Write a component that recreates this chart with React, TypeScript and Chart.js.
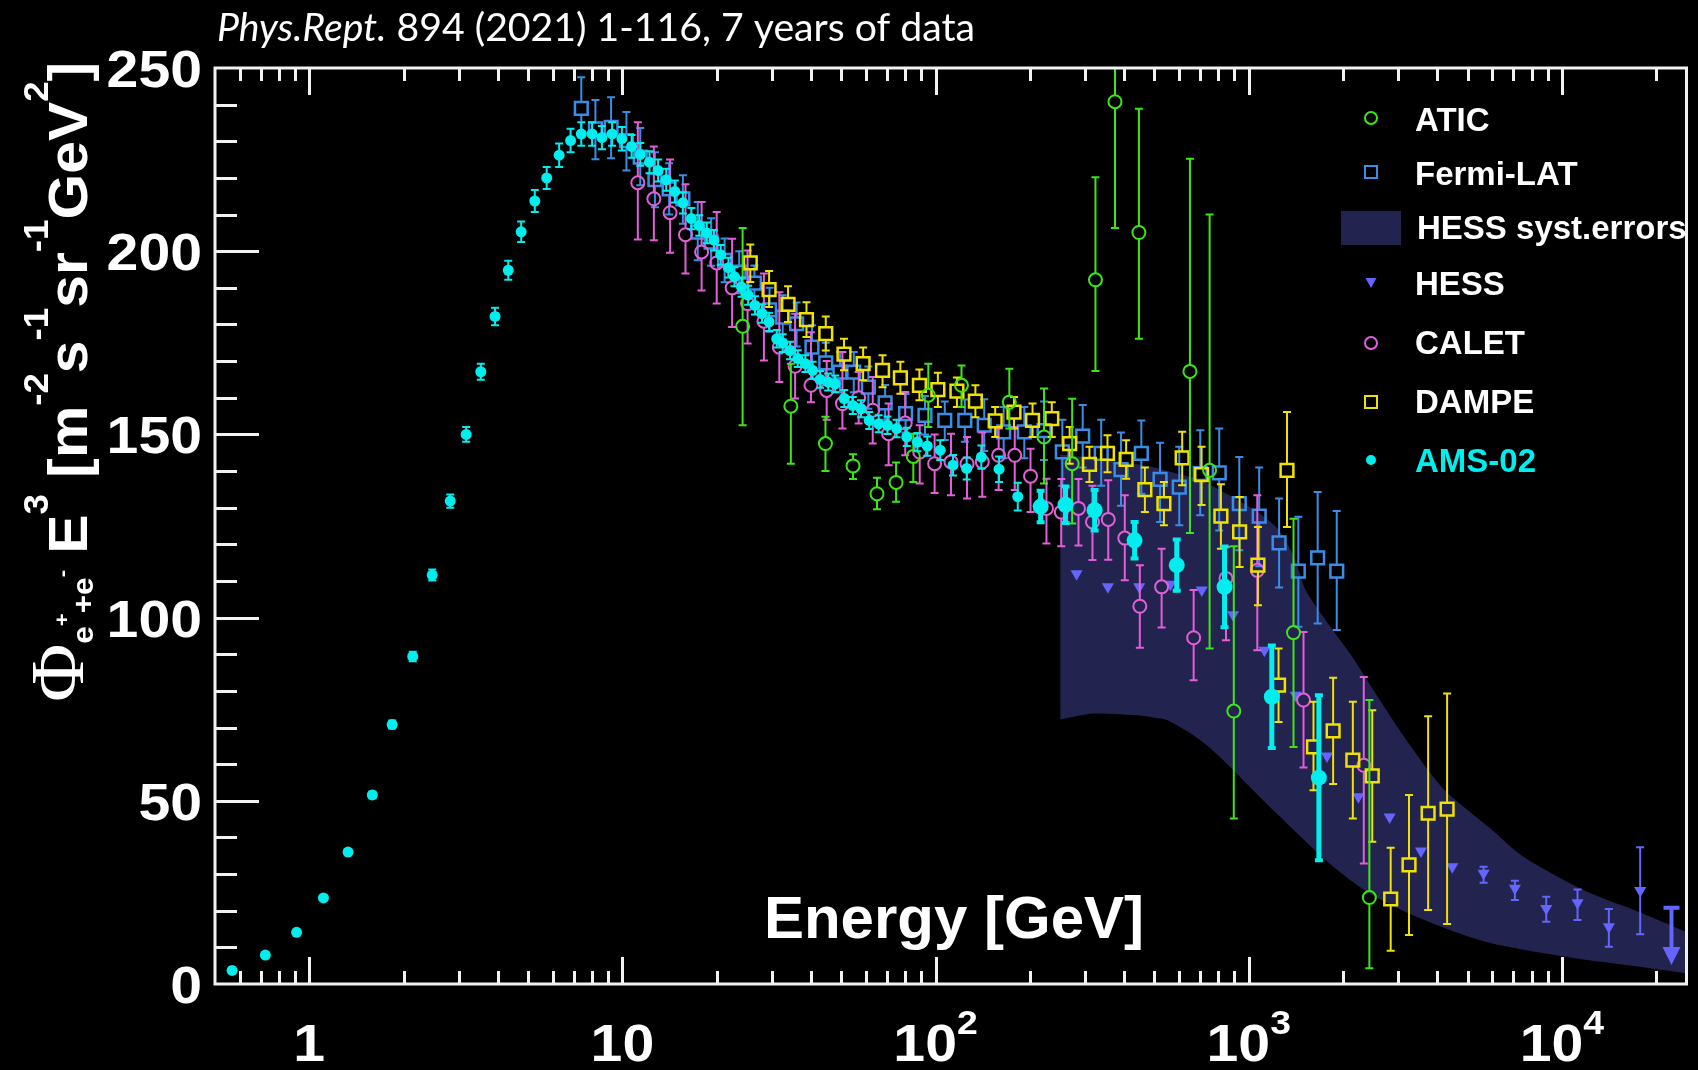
import React, { useEffect, useRef } from "react";
import { Chart, registerables } from "chart.js";

Chart.register(...registerables);

const CANVAS_W = 1698;
const CANVAS_H = 1070;

// Axis ranges
const X_MIN = 0.5;
const X_MAX = 25000;
const Y_MIN = 0;
const Y_MAX = 250;
const Y_TICK_LABELS = [0, 50, 100, 150, 200, 250];
const X_TICK_EXPONENTS = [0, 1, 2, 3, 4];

// AMS-02 (E [GeV], flux x E^3, symmetric error)
const AMS_E = [0.567, 0.724, 0.911, 1.11, 1.33, 1.59, 1.84, 2.14, 2.47, 2.82, 3.17, 3.53, 3.92, 4.32, 4.75, 5.25, 5.73, 6.28, 6.83, 7.39, 8.0, 8.6, 9.27, 9.96, 10.7, 11.4, 12.2, 13.0, 13.8, 14.7, 15.6, 16.6, 17.6, 18.6, 19.6, 20.6, 21.8, 22.8, 24.0, 25.2, 26.5, 27.9, 29.4, 31.1, 32.5, 34.3, 36.3, 38.4, 40.5, 42.8, 45.4, 47.8, 51.1, 54.4, 57.8, 61.4, 65.8, 70.2, 75.1, 80.9, 87.5, 94.1, 103.5, 113.7, 125.7, 140, 159.5, 183, 216.5, 260, 322, 432, 589, 837, 1185, 1675];
const AMS_F = [3.7, 7.9, 14.1, 23.5, 36.0, 51.6, 70.8, 89.4, 111.6, 131.8, 150.0, 167.1, 182.2, 194.8, 205.3, 213.7, 220.0, 226.2, 230.2, 232.0, 232.0, 231.0, 232.0, 230.7, 228.6, 226.4, 224.3, 222.0, 219.5, 216.3, 213.2, 208.9, 207.0, 205.0, 203.0, 199.0, 195.5, 193.0, 190.2, 188.0, 185.2, 183.0, 180.7, 176.1, 174.9, 172.9, 170.7, 169.3, 167.5, 165.0, 164.3, 163.8, 159.8, 157.9, 157.0, 153.8, 152.9, 152.5, 151.6, 149.3, 147.9, 146.8, 145.7, 141.6, 140.7, 143.8, 140.5, 133.0, 130.3, 130.8, 129.3, 121.1, 114.3, 108.4, 78.4, 56.3];
const AMS_ERR = [0.3, 0.3, 0.4, 0.5, 0.7, 0.9, 1.1, 1.3, 1.5, 1.8, 2.0, 2.2, 2.4, 2.6, 2.8, 3.0, 3.0, 3.2, 3.2, 3.2, 3.2, 3.2, 3.2, 3.2, 3.1, 3.1, 3.0, 3.0, 3.0, 3.0, 2.9, 2.9, 2.8, 2.8, 2.8, 2.7, 2.7, 2.6, 2.6, 2.6, 2.5, 2.5, 2.5, 2.4, 2.4, 2.4, 2.3, 2.3, 2.3, 2.3, 2.3, 2.3, 2.3, 2.3, 2.3, 2.3, 2.3, 2.4, 2.4, 2.5, 2.5, 2.6, 2.7, 2.8, 3.0, 3.2, 3.5, 3.8, 4.3, 5.0, 5.5, 5.0, 7.0, 11.0, 14.0, 22.5];

// ATIC
const ATIC_E = [24.2, 34.5, 44.5, 54.5, 65, 74.8, 84.9, 94.8, 121, 172, 222, 273, 324, 374, 446, 649, 750, 896, 1390, 2428];
const ATIC_F = [179.5, 157.7, 147.5, 141.4, 133.8, 136.9, 144, 160.7, 163.4, 158.8, 149.3, 142, 192.2, 240.8, 205.1, 167.2, 140.2, 74.5, 95.9, 23.6];
const ATIC_LO = [152.5, 142, 140, 137.8, 129.6, 131.6, 137, 152, 157.5, 151.6, 136.6, 125.7, 167.3, 206.3, 176.1, 123.1, 91.6, 45.2, 64.7, 4.3];
const ATIC_HI = [206.3, 169.3, 154.8, 144.6, 138.2, 142.3, 150.2, 169.3, 168.8, 167.9, 162.5, 159.7, 220.2, 252, 238.9, 225.2, 210, 119.5, 127, 77.5];

// Fermi-LAT
const FERMI_E = [7.39, 8.2, 9.2, 10.3, 11.4, 12.7, 14.1, 15.6, 17.4, 19.2, 21.2, 23.6, 26.4, 29.5, 32.5, 36, 40.3, 44.6, 49.5, 54.8, 61, 69, 80.2, 92.5, 107, 124, 143, 165, 192, 222, 254, 295, 338, 391, 454, 521, 600, 700, 805, 933, 1080, 1250, 1440, 1660, 1910];
const FERMI_F = [239, 233.4, 233.8, 230.2, 225.7, 219.5, 217, 214.3, 205.2, 202.5, 197.5, 194.3, 191.3, 184, 182, 180.2, 173.8, 169.5, 167, 167, 162.9, 158.6, 155.7, 155.2, 153.8, 153.8, 152.5, 150.7, 150.7, 151, 145.2, 149.5, 144.8, 140.4, 144.8, 137.7, 135.6, 139.3, 139.5, 131.1, 127.7, 120.4, 112.7, 116.3, 112.7];
const FERMI_LO = [231, 225.1, 225.4, 222, 218, 212, 210, 207.5, 197.5, 196, 191.5, 188.5, 185.7, 178, 176, 174, 167.5, 164, 161.5, 161.5, 157, 154, 150.5, 150, 148.5, 148, 145.5, 143.5, 143.5, 143, 136, 141, 136, 130.5, 133.8, 126.1, 125.2, 127.9, 123.8, 118.4, 114, 108.2, 97.5, 98.4, 96.6];
const FERMI_HI = [247.5, 241.3, 242, 238, 233.6, 227, 224, 220.7, 213.4, 209, 203.5, 200, 196.1, 190, 188, 186, 179.8, 175, 172.5, 172.5, 168.5, 163.5, 161, 160.5, 159, 159.5, 159.6, 157.5, 157.5, 159, 154, 158, 154, 150.5, 153.8, 147.7, 146.6, 151.1, 151.6, 143.8, 141, 132.5, 127.5, 134.3, 129.1];

// HESS systematic error band (upper / lower edge)
const BAND_E = [250, 320, 430, 500, 550, 700, 850, 1000, 1100, 1250, 1400, 1520, 1760, 2140, 2540, 3240, 4130, 5000, 5900, 7400, 9700, 12400, 17000, 25000];
const BAND_HI = [144.5, 143.5, 142, 141, 140, 137.5, 133.8, 130.3, 128, 123.8, 116.3, 107.5, 99.3, 89.3, 79.3, 65.7, 53.8, 47.5, 42.5, 35.2, 29.3, 24.7, 20.2, 14.2];
const BAND_LO = [72.2, 73.8, 73.4, 72.7, 72, 66.6, 60.2, 54.1, 50.5, 45.9, 41.8, 38.9, 33.8, 28.0, 23.8, 19.3, 15.6, 13.0, 11.2, 9.5, 7.8, 6.4, 4.9, 2.9];

// HESS
const HESS_E = [282, 355, 447, 562, 708, 891, 1122, 1413, 1778, 2239, 2818, 3548, 4467, 5623, 7079, 8913, 11220, 14125, 17783];
const HESS_F = [112, 108.4, 108.4, 109.1, 107.5, 100.8, 91.1, 78.8, 62.2, 51.1, 45.6, 36.3, 32.0, 30.2, 26.1, 20.6, 22.2, 15.6, 25.5];
const HESS_LO = [null, null, null, null, null, null, null, null, null, null, null, null, null, 27.6, 22.9, 17.0, 17.5, 10.2, 13.6];
const HESS_HI = [null, null, null, null, null, null, null, null, null, null, null, null, null, 32.0, 28.2, 23.8, 25.8, 20.5, 37.3];
// HESS upper limit (bar top, arrow tip)
const HESS_UL_E = [22387];
const HESS_UL_F = [20.8];
const HESS_UL_TIP = [5.2];

// CALET
const CALET_E = [11.2, 12.6, 14.2, 15.9, 17.9, 20, 22.4, 25.1, 28.3, 31.7, 35.6, 40, 44.9, 50.4, 56.8, 63, 70.8, 80, 89, 99.3, 112, 126, 141, 159, 179, 201, 226, 252, 286, 317, 356, 402, 449, 527, 667, 846, 1065, 1496, 2330];
const CALET_F = [218.7, 214.3, 210.5, 204.5, 199.8, 196.8, 190, 185.7, 180.9, 173.8, 168.6, 163.4, 162, 158.4, 160, 156.6, 150.2, 153.1, 145.2, 142, 142.5, 142, 142.5, 144.3, 144.3, 138.6, 129.8, 128.8, 129.8, 126.1, 126.8, 121.7, 103.1, 108.4, 94.5, 110.7, 112.9, 77.5, 59.7];
const CALET_LO = [203.2, 203, 199.6, 193.9, 189.3, 185.7, 179.3, 174.8, 170.2, 164.3, 159.8, 158.8, 154, 151.6, 153, 147.5, 141.6, 144.3, 136.6, 134, 133.4, 132.5, 133, 134.8, 134.8, 128.8, 120.2, 119.5, 119.7, 115.7, 115.8, 110.2, 91.8, 97.3, 82.9, 93.8, 91.1, 59.1, 32.9];
const CALET_HI = [235.2, 228.6, 225, 218.3, 213.4, 210.7, 203.4, 200.2, 193.9, 188.8, 182.9, 177.9, 170, 172.5, 167, 165.7, 158.4, 161.6, 152.5, 150, 150.2, 149.3, 150.5, 151.6, 152, 146.1, 137.9, 137.8, 137.8, 136, 137.5, 133.4, 114.3, 118.8, 107.5, 119.3, 133.4, 96.1, 83.8];

// DAMPE
const DAMPE_E = [25.6, 29.4, 33.8, 38.7, 44.6, 51, 58.7, 67.7, 77.2, 88.8, 101.7, 117, 134, 155, 178, 204, 235, 268, 310, 354, 406, 466, 536, 613, 707, 815, 935, 1070, 1245, 1325, 1610, 1860, 2150, 2480, 2840, 3250, 3740, 4300];
const DAMPE_F = [196.8, 189.5, 185.5, 181.3, 177.5, 171.9, 169.3, 167.5, 165.4, 163.4, 162.2, 161.8, 159.1, 153.7, 156.1, 153.8, 154.3, 147.5, 141.8, 144.8, 143.2, 134.9, 131.1, 143.6, 139, 127.7, 123.4, 114.3, 81.6, 140.2, 64.7, 69.1, 61.1, 56.8, 23.2, 32.5, 46.6, 47.7];
const DAMPE_LO = [191.6, 184.8, 180.7, 176.6, 172.9, 167.5, 164.8, 162.9, 161.1, 159.3, 157.5, 157.5, 154.7, 149.3, 151.6, 149.3, 149.3, 142, 137, 139.7, 137.9, 128.8, 125.2, 136.1, 130.7, 118.8, 113.8, 103.4, 71.5, 124.7, 52.9, 54.6, 45.2, 38.8, 9.1, 13.4, 20.2, 16.4];
const DAMPE_HI = [201.8, 194.6, 190.4, 186.1, 182.2, 176.1, 173.7, 171.6, 169.8, 167.7, 166.8, 165.5, 163.4, 157.5, 160.2, 158.4, 158.8, 152, 146.6, 149.8, 148.4, 141, 137, 150.7, 146.6, 136.4, 132.9, 124.7, 91.6, 156.1, 77, 83.6, 77, 74.7, 37.2, 51.6, 73.1, 79.3];

// Colours
const C_ATIC = "#3ce614";
const C_FERMI = "#3a8de6";
const C_BAND = "#23234f";
const C_HESS = "#6464ff";
const C_CALET = "#e35fd9";
const C_DAMPE = "#f0e200";
const C_AMS = "#00eeee";

const LEGEND_ITEMS = [
  { label: "ATIC", kind: "circle", color: C_ATIC },
  { label: "Fermi-LAT", kind: "square", color: C_FERMI },
  { label: "HESS syst.errors", kind: "box", color: C_BAND },
  { label: "HESS", kind: "triangle", color: C_HESS },
  { label: "CALET", kind: "circle", color: C_CALET },
  { label: "DAMPE", kind: "square", color: C_DAMPE },
  { label: "AMS-02", kind: "dot", color: C_AMS },
];

const toXY = (xs: number[], ys: number[]) => xs.map((x, i) => ({ x, y: ys[i] }));

const SANS = '"Liberation Sans", Arial, sans-serif';

type Run = { t: string; font: string; dy: number };

function runsWidth(ctx: CanvasRenderingContext2D, runs: Run[], sx: number) {
  let w = 0;
  for (const r of runs) {
    ctx.font = r.font;
    w += ctx.measureText(r.t).width * sx;
  }
  return w;
}

function drawRuns(ctx: CanvasRenderingContext2D, runs: Run[], x0: number, y0: number, sx: number) {
  let x = x0;
  for (const r of runs) {
    ctx.font = r.font;
    ctx.save();
    ctx.translate(x, y0 + r.dy);
    ctx.scale(sx, 1);
    ctx.textAlign = "left";
    ctx.textBaseline = "alphabetic";
    ctx.fillText(r.t, 0, 0);
    ctx.restore();
    x += ctx.measureText(r.t).width * sx;
  }
}

const backgroundPlugin = {
  id: "blackBackground",
  beforeDraw(chart: any) {
    const { ctx, width, height } = chart;
    ctx.save();
    ctx.fillStyle = "#000";
    ctx.fillRect(0, 0, width, height);
    ctx.restore();
  },
};

// Vertical error bars drawn under each dataset's markers
const errorBarPlugin = {
  id: "errorBars",
  beforeDatasetDraw(chart: any, args: any) {
    const ds: any = chart.data.datasets[args.index];
    if (!ds.errLo) return;
    const { ctx, chartArea: a } = chart;
    const xs = chart.scales.x;
    const ys = chart.scales.y;
    ctx.save();
    ctx.beginPath();
    ctx.rect(a.left, a.top, a.right - a.left, a.bottom - a.top);
    ctx.clip();
    ctx.strokeStyle = ds.borderColor;
    ctx.lineCap = "butt";
    ds.data.forEach((p: any, i: number) => {
      const lo = ds.errLo[i];
      const hi = ds.errHi[i];
      if (lo == null || hi == null) return;
      const px = xs.getPixelForValue(p.x);
      const py = ys.getPixelForValue(p.y);
      const yl = ys.getPixelForValue(lo);
      const yh = ys.getPixelForValue(hi);
      const lw = Array.isArray(ds.ebWidth) ? ds.ebWidth[i] : ds.ebWidth;
      const g = ds.ebGap || 0;
      const c = ds.ebCap;
      ctx.lineWidth = lw;
      ctx.beginPath();
      if (yh < py - g) {
        ctx.moveTo(px, py - g);
        ctx.lineTo(px, yh);
      }
      if (yl > py + g) {
        ctx.moveTo(px, py + g);
        ctx.lineTo(px, yl);
      }
      ctx.stroke();
      ctx.lineWidth = Math.max(2, lw * 0.8);
      ctx.beginPath();
      ctx.moveTo(px - c, yh);
      ctx.lineTo(px + c, yh);
      ctx.moveTo(px - c, yl);
      ctx.lineTo(px + c, yl);
      ctx.stroke();
    });
    ctx.restore();
  },
};

// Frame, inward ticks, HESS upper limit, labels and legend
const framePlugin = {
  id: "frameTicks",
  afterDatasetsDraw(chart: any) {
    const { ctx, chartArea: a } = chart;
    const xs = chart.scales.x;
    const ys = chart.scales.y;
    ctx.save();

    // HESS upper limit arrow
    ctx.strokeStyle = C_HESS;
    ctx.fillStyle = C_HESS;
    HESS_UL_E.forEach((e, i) => {
      const px = xs.getPixelForValue(e);
      const yt = ys.getPixelForValue(HESS_UL_F[i]);
      const yb = ys.getPixelForValue(HESS_UL_TIP[i]);
      ctx.lineWidth = 4;
      ctx.beginPath();
      ctx.moveTo(px - 8, yt);
      ctx.lineTo(px + 8, yt);
      ctx.moveTo(px, yt);
      ctx.lineTo(px, yb - 14);
      ctx.stroke();
      ctx.beginPath();
      ctx.moveTo(px - 9, yb - 18);
      ctx.lineTo(px + 9, yb - 18);
      ctx.lineTo(px, yb);
      ctx.closePath();
      ctx.fill();
    });

    ctx.strokeStyle = "#f2f2f2";
    ctx.lineWidth = 3;
    ctx.lineCap = "butt";
    ctx.beginPath();
    for (let k = -1; k <= 4; k++) {
      for (let d = 1; d <= 9; d++) {
        const v = d * Math.pow(10, k);
        if (v <= X_MIN || v >= X_MAX) continue;
        const px = Math.round(xs.getPixelForValue(v)) + 0.5;
        const len = d === 1 ? 27 : 13;
        ctx.moveTo(px, a.bottom);
        ctx.lineTo(px, a.bottom - len);
        ctx.moveTo(px, a.top);
        ctx.lineTo(px, a.top + len);
      }
    }
    for (let v = Y_MIN + 10; v < Y_MAX; v += 10) {
      const py = Math.round(ys.getPixelForValue(v)) + 0.5;
      const len = v % 50 === 0 ? 44 : 22;
      ctx.moveTo(a.left, py);
      ctx.lineTo(a.left + len, py);
    }
    ctx.stroke();
    ctx.strokeRect(a.left, a.top, a.right - a.left, a.bottom - a.top);
    ctx.restore();
  },
  afterDraw(chart: any) {
    const { ctx, chartArea: a } = chart;
    const xs = chart.scales.x;
    const ys = chart.scales.y;
    ctx.save();
    ctx.fillStyle = "#ffffff";

    // y tick labels
    const tickFont = `bold 52px ${SANS}`;
    Y_TICK_LABELS.forEach((v) => {
      const py = ys.getPixelForValue(v);
      ctx.font = tickFont;
      const w = ctx.measureText(String(v)).width * 1.1;
      drawRuns(ctx, [{ t: String(v), font: tickFont, dy: 0 }], a.left - 13 - w, py + 19, 1.1);
    });

    // x tick labels: 1, 10, 10^2 ...
    X_TICK_EXPONENTS.forEach((k) => {
      const px = xs.getPixelForValue(Math.pow(10, k));
      const runs: Run[] =
        k === 0
          ? [{ t: "1", font: tickFont, dy: 0 }]
          : k === 1
          ? [{ t: "10", font: tickFont, dy: 0 }]
          : [
              { t: "10", font: tickFont, dy: 0 },
              { t: String(k), font: `bold 34px ${SANS}`, dy: -27 },
            ];
      const w = runsWidth(ctx, runs, 1.1);
      drawRuns(ctx, runs, px - w / 2, 1061, 1.1);
    });

    // x axis title
    ctx.font = `bold 60px ${SANS}`;
    ctx.textAlign = "right";
    ctx.fillText("Energy [GeV]", 1144, 938);

    // y axis title (rotated)
    const B = `bold 56px ${SANS}`;
    const S = `bold 35px ${SANS}`;
    const SUB = `bold 30px ${SANS}`;
    const SS = `bold 21px ${SANS}`;
    const up = -39;
    const yRuns: Run[] = [
      { t: "Φ", font: '76px "Liberation Serif", serif', dy: -4 },
      { t: "e", font: SUB, dy: 6 },
      { t: "+", font: SS, dy: -18 },
      { t: "+", font: SUB, dy: 6 },
      { t: "e", font: SUB, dy: 6 },
      { t: "-", font: SS, dy: -18 },
      { t: " E", font: B, dy: 0 },
      { t: "3", font: S, dy: up },
      { t: " [m", font: B, dy: 0 },
      { t: "-2", font: S, dy: up },
      { t: "s", font: B, dy: 0 },
      { t: "-1", font: S, dy: up },
      { t: "sr", font: B, dy: 0 },
      { t: "-1", font: S, dy: up },
      { t: "GeV", font: B, dy: 0 },
      { t: "2", font: S, dy: up },
      { t: "]", font: B, dy: 0 },
    ];
    ctx.save();
    ctx.translate(87, 702);
    ctx.rotate(-Math.PI / 2);
    drawRuns(ctx, yRuns, 0, 0, 1.05);
    ctx.restore();

    // header line
    const tItal = "Phys.Rept.";
    const tRest = " 894 (2021) 1-116, 7 years of data";
    ctx.font = 'italic 38px Lato, "Open Sans", sans-serif';
    const w1 = ctx.measureText(tItal).width;
    ctx.font = '38px Lato, "Open Sans", sans-serif';
    const w2 = ctx.measureText(tRest).width;
    const s = 758 / (w1 + w2);
    ctx.save();
    ctx.translate(217, 41);
    ctx.scale(s, 1);
    ctx.textAlign = "left";
    ctx.font = 'italic 38px Lato, "Open Sans", sans-serif';
    ctx.fillText(tItal, 0, 0);
    ctx.font = '38px Lato, "Open Sans", sans-serif';
    ctx.fillText(tRest, w1, 0);
    ctx.restore();

    // legend
    const markX = 1371;
    const markY = [118, 172, 228, 282, 343, 402, 460];
    const baseY = [131, 185, 239, 295, 354, 413, 472];
    LEGEND_ITEMS.forEach((it, i) => {
      const my = markY[i];
      ctx.strokeStyle = it.color;
      ctx.fillStyle = it.color;
      ctx.lineWidth = 2;
      if (it.kind === "circle") {
        ctx.beginPath();
        ctx.arc(markX, my, 6, 0, Math.PI * 2);
        ctx.stroke();
      } else if (it.kind === "square") {
        ctx.strokeRect(markX - 6, my - 6, 12, 12);
      } else if (it.kind === "box") {
        ctx.fillRect(1341, 211, 60, 34);
      } else if (it.kind === "triangle") {
        ctx.beginPath();
        ctx.moveTo(markX - 5.5, my - 4);
        ctx.lineTo(markX + 5.5, my - 4);
        ctx.lineTo(markX, my + 6);
        ctx.closePath();
        ctx.fill();
      } else {
        ctx.beginPath();
        ctx.arc(markX, my, 5, 0, Math.PI * 2);
        ctx.fill();
      }
      ctx.fillStyle = it.label === "AMS-02" ? C_AMS : "#ffffff";
      ctx.font = `bold 33px ${SANS}`;
      ctx.textAlign = "left";
      ctx.fillText(it.label, it.kind === "box" ? 1417 : 1415, baseY[i]);
    });
    ctx.restore();
  },
};

const AMS_RADIUS = AMS_E.map((e) => (e > 200 ? 8 : 5.5));
const AMS_BARW = AMS_E.map((e) => (e > 200 ? 5 : 2));

export default function App() {
  const canvasRef = useRef<HTMLCanvasElement | null>(null);

  useEffect(() => {
    const canvas = canvasRef.current;
    if (!canvas) return;
    const chart = new Chart(canvas, {
      type: "scatter",
      data: {
        datasets: [
          {
            label: "AMS-02",
            data: toXY(AMS_E, AMS_F),
            borderColor: C_AMS,
            backgroundColor: C_AMS,
            pointStyle: "circle",
            pointRadius: AMS_RADIUS,
            pointBorderWidth: 0,
            order: 0,
            errLo: AMS_F.map((f, i) => f - AMS_ERR[i]),
            errHi: AMS_F.map((f, i) => f + AMS_ERR[i]),
            ebWidth: AMS_BARW,
            ebCap: 4,
            ebGap: 0,
          } as any,
          {
            label: "ATIC",
            data: toXY(ATIC_E, ATIC_F),
            borderColor: C_ATIC,
            backgroundColor: "rgba(0,0,0,0)",
            pointStyle: "circle",
            pointRadius: 6.5,
            pointBorderWidth: 2,
            order: 1,
            errLo: ATIC_LO,
            errHi: ATIC_HI,
            ebWidth: 2,
            ebCap: 4,
            ebGap: 6.5,
          } as any,
          {
            label: "DAMPE",
            data: toXY(DAMPE_E, DAMPE_F),
            borderColor: C_DAMPE,
            backgroundColor: "rgba(0,0,0,0)",
            pointStyle: "rect",
            pointRadius: 9,
            pointBorderWidth: 2.5,
            order: 2,
            errLo: DAMPE_LO,
            errHi: DAMPE_HI,
            ebWidth: 2,
            ebCap: 4,
            ebGap: 6.4,
          } as any,
          {
            label: "CALET",
            data: toXY(CALET_E, CALET_F),
            borderColor: C_CALET,
            backgroundColor: "rgba(0,0,0,0)",
            pointStyle: "circle",
            pointRadius: 6.5,
            pointBorderWidth: 2,
            order: 3,
            errLo: CALET_LO,
            errHi: CALET_HI,
            ebWidth: 2,
            ebCap: 4,
            ebGap: 6.5,
          } as any,
          {
            label: "Fermi-LAT",
            data: toXY(FERMI_E, FERMI_F),
            borderColor: C_FERMI,
            backgroundColor: "rgba(0,0,0,0)",
            pointStyle: "rect",
            pointRadius: 9,
            pointBorderWidth: 2.5,
            order: 4,
            errLo: FERMI_LO,
            errHi: FERMI_HI,
            ebWidth: 2,
            ebCap: 4,
            ebGap: 6.4,
          } as any,
          {
            label: "HESS",
            data: toXY(HESS_E, HESS_F),
            borderColor: C_HESS,
            backgroundColor: C_HESS,
            pointStyle: "triangle",
            pointRotation: 180,
            pointRadius: 7,
            pointBorderWidth: 0,
            order: 5,
            errLo: HESS_LO,
            errHi: HESS_HI,
            ebWidth: 2,
            ebCap: 4,
            ebGap: 0,
          } as any,
          {
            type: "line",
            label: "HESS syst.errors",
            data: toXY(BAND_E, BAND_HI),
            borderWidth: 0,
            borderColor: C_BAND,
            backgroundColor: C_BAND,
            pointRadius: 0,
            showLine: true,
            tension: 0.3,
            fill: "+1",
            order: 10,
          } as any,
          {
            type: "line",
            label: "band-lower",
            data: toXY(BAND_E, BAND_LO),
            borderWidth: 0,
            borderColor: C_BAND,
            backgroundColor: C_BAND,
            pointRadius: 0,
            showLine: true,
            tension: 0.3,
            fill: false,
            order: 10,
          } as any,
        ],
      },
      options: {
        responsive: false,
        animation: false,
        devicePixelRatio: 1,
        layout: { padding: { left: 215, right: 2, top: 68, bottom: 86 } },
        scales: {
          x: { type: "logarithmic", min: X_MIN, max: X_MAX, display: false },
          y: { type: "linear", min: Y_MIN, max: Y_MAX, display: false },
        },
        plugins: {
          legend: { display: false },
          tooltip: { enabled: false },
          title: { display: false },
        },
      },
      plugins: [backgroundPlugin, errorBarPlugin, framePlugin],
    });
    return () => chart.destroy();
  }, []);

  return (
    <div style={{ position: "fixed", left: 0, top: 0, width: CANVAS_W, height: CANVAS_H, background: "#000" }}>
      <canvas
        ref={canvasRef}
        width={CANVAS_W}
        height={CANVAS_H}
        style={{ display: "block", width: CANVAS_W, height: CANVAS_H }}
      />
    </div>
  );
}
